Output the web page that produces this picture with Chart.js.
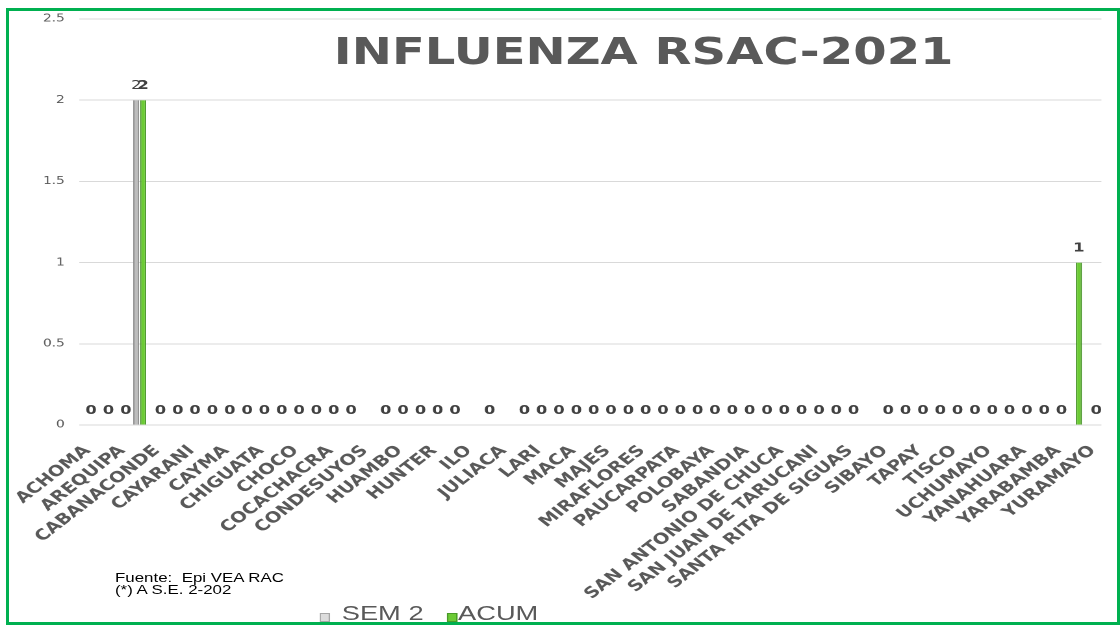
<!DOCTYPE html>
<html>
<head>
<meta charset="utf-8">
<script src="https://cdn.jsdelivr.net/npm/chart.js@4.4.1/dist/chart.umd.min.js"></script>
<style>
html,body{margin:0;padding:0;background:#fff;width:1120px;height:625px;overflow:hidden;position:relative;}
#frame{position:absolute;left:6px;top:8px;width:1114px;height:617px;box-sizing:border-box;border:3.5px solid #00B050;pointer-events:none;z-index:5;}
#stage{position:absolute;left:0;top:0;width:862px;height:625px;transform:scaleX(1.2993);transform-origin:0 0;}
#chartBox{position:absolute;left:0;top:0;width:862px;height:625px;}
#title{position:absolute;left:495.4px;top:33px;transform:translateX(-50%);white-space:nowrap;font:bold 37px/38px "DejaVu Sans";color:#595959;}
#note{position:absolute;left:88.5px;top:571.5px;font:13px/12.5px "Liberation Sans";color:#000;white-space:nowrap;}
.lg-box{position:absolute;top:613px;width:7.5px;height:9px;box-sizing:border-box;border:1px solid;}
.lg-txt{position:absolute;top:602.2px;font:21px/21px "Liberation Sans";color:#595959;white-space:nowrap;}
</style>
</head>
<body>
<div id="stage">
  <div id="chartBox"><canvas id="c"></canvas></div>
  <div id="title">INFLUENZA RSAC-2021</div>
  <div id="note">Fuente:&nbsp; Epi VEA RAC<br>(*) A S.E. 2-202</div>
  <div id="legend"></div>
</div>
<div id="frame"></div>
<script>
// ---- data ----
const categories = [
  "ACHOMA","","AREQUIPA","","CABANACONDE","","CAYARANI","","CAYMA","",
  "CHIGUATA","","CHOCO","","COCACHACRA","","CONDESUYOS","","HUAMBO","",
  "HUNTER","","ILO","","JULIACA","","LARI","","MACA","",
  "MAJES","","MIRAFLORES","","PAUCARPATA","","POLOBAYA","","SABANDIA","",
  "SAN ANTONIO DE CHUCA","","SAN JUAN DE TARUCANI","","SANTA RITA DE SIGUAS","","SIBAYO","","TAPAY","",
  "TISCO","","UCHUMAYO","","YANAHUARA","","YARABAMBA","","YURAMAYO"
];
const sem2 = [
  null,null,null,2,null,null,null,null,null,null,
  null,null,null,null,null,null,null,null,null,null,
  null,null,null,null,null,null,null,null,null,null,
  null,null,null,null,null,null,null,null,null,null,
  null,null,null,null,null,null,null,null,null,null,
  null,null,null,null,null,null,null,null,null
];
const acum = [
  0,0,0,2,0,0,0,0,0,0,
  0,0,0,0,0,0,null,0,0,0,
  0,0,null,0,null,0,0,0,0,0,
  0,0,0,0,0,0,0,0,0,0,
  0,0,0,0,0,null,0,0,0,0,
  0,0,0,0,0,0,0,1,0
];
const seriesNames = ["SEM 2","ACUM"];
const yTickValues = [0,0.5,1,1.5,2,2.5];

// ---- styles ----
const fills = ["#BDBDBD","#6CCB35"];
const edges = ["#8A8A8A","#3F8F1F"];
const legendFills = ["#DCDCDC","#6CCB35"];
const legendEdges = ["#A6A6A6","#4A9A2A"];
const labelFonts = ["12.5px 'DejaVu Sans'","bold 12.5px 'DejaVu Sans'"];

const valueLabels = {
  id:'valueLabels',
  afterDatasetsDraw(chart){
    const ctx = chart.ctx;
    chart.data.datasets.forEach((ds,i)=>{
      const meta = chart.getDatasetMeta(i);
      meta.data.forEach((bar,j)=>{
        const v = ds.data[j];
        if (v === null || v === undefined) return;
        ctx.save();
        ctx.font = labelFonts[i];
        ctx.fillStyle = '#404040';
        ctx.textAlign = 'center';
        ctx.textBaseline = 'bottom';
        ctx.fillText(String(v), bar.x, bar.y - 8);
        ctx.restore();
      });
    });
  }
};

const chart = new Chart(document.getElementById('c'), {
  type:'bar',
  data:{
    labels: categories,
    datasets:[
      {label:seriesNames[0], data:sem2, backgroundColor:fills[0], borderColor:edges[0], borderWidth:{left:1,right:1,top:0,bottom:0}},
      {label:seriesNames[1], data:acum, backgroundColor:fills[1], borderColor:edges[1], borderWidth:{left:1,right:1,top:0,bottom:0}}
    ]
  },
  options:{
    responsive:true,
    maintainAspectRatio:false,
    animation:false,
    devicePixelRatio:2,
    categoryPercentage:0.8,
    barPercentage:0.86,
    layout:{padding:{top:19,right:14.3,bottom:0,left:0}},
    plugins:{legend:{display:false},title:{display:false},tooltip:{enabled:false}},
    scales:{
      x:{
        grid:{display:false},
        border:{display:false},
        ticks:{
          autoSkip:false,maxRotation:45,minRotation:45,padding:9,
          color:'#595959',font:{family:'DejaVu Sans',weight:'bold',size:15}
        },
        afterFit(s){ s.height = 200; s.paddingLeft = 0; s.paddingRight = 0; }
      },
      y:{
        min:yTickValues[0], max:yTickValues[yTickValues.length-1],
        afterBuildTicks(s){ s.ticks = yTickValues.map(v=>({value:v})); },
        grid:{color:'#D9D9D9',drawTicks:false,lineWidth:1},
        border:{display:false},
        ticks:{padding:11,color:'#595959',font:{family:'DejaVu Sans',size:10.5},callback:(v)=>String(v)},
        afterFit(s){ s.width = 60.8; }
      }
    }
  },
  plugins:[valueLabels]
});

// legend built from dataset names/colours
const lg = document.getElementById('legend');
const boxX = [246, 344];
const txtX = [263, 352.5];
seriesNames.forEach((n,i)=>{
  const b = document.createElement('div');
  b.className = 'lg-box';
  b.style.left = boxX[i]+'px';
  b.style.background = legendFills[i];
  b.style.borderColor = legendEdges[i];
  lg.appendChild(b);
  const t = document.createElement('div');
  t.className = 'lg-txt';
  t.style.left = txtX[i]+'px';
  t.textContent = n;
  lg.appendChild(t);
});
</script>
</body>
</html>
